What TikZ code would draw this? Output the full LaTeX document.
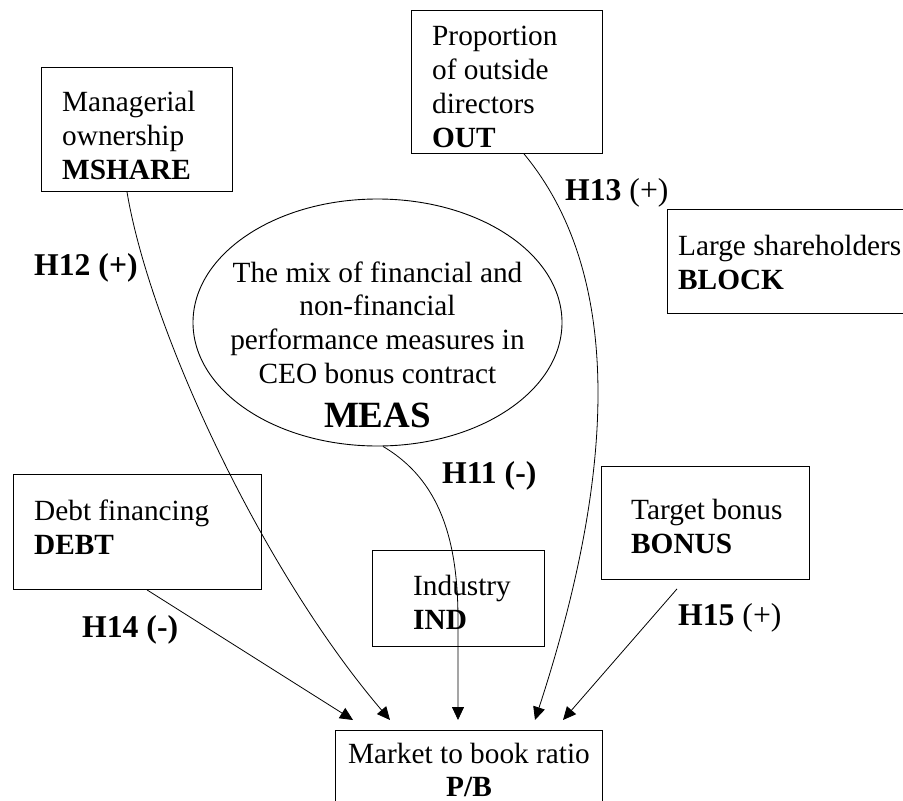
\documentclass[tikz,border=0pt]{standalone}
\usepackage{fontspec}
\setmainfont{Liberation Serif}
\usetikzlibrary{arrows.meta,shapes.geometric,calc}
\begin{document}
\begin{tikzpicture}[x=1pt,y=-1pt,
  box/.style={draw,line width=0.9pt,rectangle,inner sep=0pt,anchor=north west},
  txt/.style={inner sep=0pt,anchor=base west,font=\fontsize{29.3}{34.3}\selectfont},
  ctxt/.style={inner sep=0pt,anchor=base,font=\fontsize{29.3}{33.7}\selectfont},
  lab/.style={inner sep=0pt,anchor=base west,font=\fontsize{31.7}{36}\selectfont\bfseries},
  conn/.style={line width=0.8pt,-{Triangle[length=13pt,width=12pt]}}]
\useasboundingbox (0,0) rectangle (903,801);
\fill[white] (0,0) rectangle (903,801);

% boxes
\node[box,minimum width=191pt,minimum height=124pt] (mshare) at (41,67) {};
\node[box,minimum width=191pt,minimum height=143pt] (out) at (411,10) {};
\node[box,minimum width=260pt,minimum height=104pt] (block) at (667,209) {};
\node[box,minimum width=248pt,minimum height=115pt] (debt) at (13,474) {};
\node[box,minimum width=172pt,minimum height=96pt] (ind) at (372,550) {};
\node[box,minimum width=208pt,minimum height=113pt] (bonus) at (601,466) {};
\node[box,minimum width=267pt,minimum height=100pt] (pb) at (335,730) {};
\node[draw,line width=0.9pt,ellipse,inner sep=0pt,minimum width=369pt,minimum height=247pt] (meas) at (377.5,322.5) {};

% texts
\node[txt] (mshareT) at (62,111) {\begin{tabular}[t]{@{}l@{}}Managerial\\ownership\\\textbf{MSHARE}\end{tabular}};
\node[txt] (outT) at (432,45) {\begin{tabular}[t]{@{}l@{}}Proportion\\of outside\\directors\\\textbf{OUT}\end{tabular}};
\node[txt] (blockT) at (678,255) {\begin{tabular}[t]{@{}l@{}}Large shareholders\\\textbf{BLOCK}\end{tabular}};
\node[txt] (debtT) at (34,520) {\begin{tabular}[t]{@{}l@{}}Debt financing\\\textbf{DEBT}\end{tabular}};
\node[txt] (indT) at (413,595) {\begin{tabular}[t]{@{}l@{}}Industry\\\textbf{IND}\end{tabular}};
\node[txt] (bonusT) at (631,519) {\begin{tabular}[t]{@{}l@{}}Target bonus\\\textbf{BONUS}\end{tabular}};
\node[ctxt] (pbT) at (469,763) {\begin{tabular}[t]{@{}c@{}}Market to book ratio\\\textbf{P/B}\end{tabular}};
\node[ctxt] (measT) at (377.5,282) {\begin{tabular}[t]{@{}c@{}}The mix of financial and\\non-financial\\performance measures in\\CEO bonus contract\\[10pt]{\fontsize{37}{40}\selectfont\bfseries MEAS}\end{tabular}};

% hypothesis labels
\node[lab] (h12) at (34,275) {H12 (+)};
\node[lab] (h13) at (565,200) {H13 \textmd{(+)}};
\node[lab] (h11) at (442,483) {H11 (-)};
\node[lab] (h14) at (82,637) {H14 (-)};
\node[lab] (h15) at (678,625) {H15 \textmd{(+)}};

% connector ends
\coordinate (sM) at ([xshift=86pt]mshare.south west);
\coordinate (sO) at ([xshift=113pt]out.south west);
\coordinate (sE) at ([xshift=5.5pt]meas.south);
\coordinate (sD) at ([xshift=134pt]debt.south west);
\coordinate (sB) at ([shift={(76,9)}]bonus.south west);
\coordinate (tD) at ([shift={(18,-10)}]pb.north west);
\coordinate (tM) at ([shift={(55,-10)}]pb.north west);
\coordinate (tE) at ([shift={(123,-10)}]pb.north west);
\coordinate (tO) at ([shift={(200,-10)}]pb.north west);
\coordinate (tB) at ([shift={(228,-10)}]pb.north west);

\draw[conn] (sM) .. controls (150,330) and (262,570) .. (tM);
\draw[conn] (sO) .. controls (620,270) and (620,460) .. (tO);
\draw[conn] (sE) .. controls (440,480) and (458,540) .. (458,620) -- (tE);
\draw[conn] (sD) -- (tD);
\draw[conn] (sB) -- (tB);
\end{tikzpicture}
\end{document}
